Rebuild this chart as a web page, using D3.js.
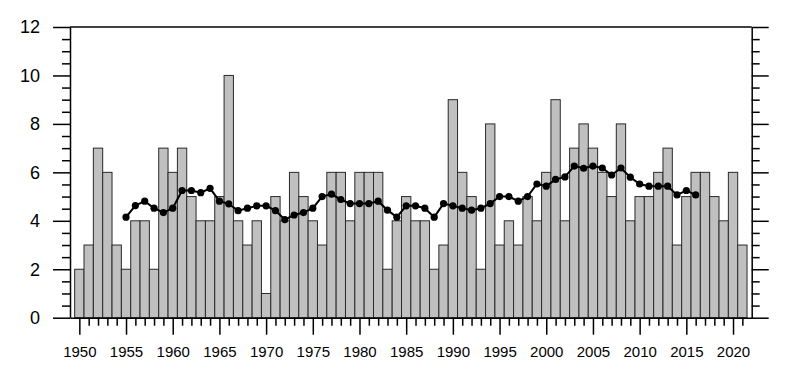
<!DOCTYPE html>
<html>
<head>
<meta charset="utf-8">
<script src="https://cdn.jsdelivr.net/npm/d3@7"></script>
<style>
  html, body { margin: 0; padding: 0; background: #fff; }
  svg { display: block; font-family: "Liberation Sans", Arial, Helvetica, sans-serif; }
</style>
</head>
<body>
<div id="chart"></div>
<script>
// yearly counts, 1950-2021
const years = d3.range(1950, 2022);
const counts = [
  2, 3, 7, 6, 3, 2, 4, 4, 2, 7,
  6, 7, 5, 4, 4, 5, 10, 4, 3, 4,
  1, 5, 4, 6, 5, 4, 3, 6, 6, 4,
  6, 6, 6, 2, 4, 5, 4, 4, 2, 3,
  9, 6, 5, 2, 8, 3, 4, 3, 5, 4,
  6, 9, 4, 7, 8, 7, 6, 5, 8, 4,
  5, 5, 6, 7, 3, 5, 6, 6, 5, 4,
  6, 3
];

// smoothed curve, 1955-2016
const smoothYears = d3.range(1955, 2017);
const smoothValues = [
  4.15, 4.63, 4.81, 4.52, 4.34, 4.52, 5.25, 5.25, 5.16, 5.34,
  4.81, 4.70, 4.42, 4.52, 4.62, 4.62, 4.42, 4.05, 4.24, 4.34,
  4.52, 5.00, 5.10, 4.88, 4.71, 4.71, 4.71, 4.81, 4.44, 4.15,
  4.62, 4.62, 4.52, 4.15, 4.71, 4.62, 4.52, 4.44, 4.52, 4.71,
  5.00, 5.00, 4.81, 5.00, 5.52, 5.43, 5.71, 5.81, 6.26, 6.17,
  6.26, 6.18, 5.89, 6.18, 5.80, 5.52, 5.43, 5.43, 5.43, 5.07,
  5.25, 5.07
];

const yTicks = [0, 2, 4, 6, 8, 10, 12];
const xTicks = d3.range(1950, 2021, 5);

const W = 789, H = 378;
const m = { left: 70, right: 751.7, top: 27, bottom: 317.7 };

const svg = d3.select('#chart').append('svg').attr('width', W).attr('height', H);

const x = d3.scaleLinear().domain([1949, 2022]).range([m.left, m.right]);
const y = d3.scaleLinear().domain([0, 12]).range([m.bottom, m.top]);

// bars
svg.append('g').selectAll('rect').data(years).enter().append('rect')
  .attr('x', d => x(d - 0.5))
  .attr('width', d => x(d + 0.5) - x(d - 0.5))
  .attr('y', (d, i) => y(counts[i]))
  .attr('height', (d, i) => y(0) - y(counts[i]))
  .attr('fill', '#c0c0c0')
  .attr('stroke', '#2a2a2a')
  .attr('stroke-width', 1);

// smoothed line + dots
const line = d3.line().x((d, i) => x(smoothYears[i])).y(d => y(d));
svg.append('path').datum(smoothValues)
  .attr('d', line).attr('fill', 'none').attr('stroke', '#000').attr('stroke-width', 2);
svg.append('g').selectAll('circle').data(smoothValues).enter().append('circle')
  .attr('cx', (d, i) => x(smoothYears[i])).attr('cy', d => y(d)).attr('r', 3.6).attr('fill', '#000');

// frame top
svg.append('line').attr('x1', m.left).attr('x2', m.right).attr('y1', m.top).attr('y2', m.top)
  .attr('stroke', '#000').attr('stroke-width', 1.5);

// left axis
const yMinor = d3.range(0, 12.01, 0.5).filter(v => v % 2 !== 0);
const axL = svg.append('g').attr('transform', `translate(${m.left},0)`)
  .call(d3.axisLeft(y).tickValues(yTicks).tickSize(17).tickSizeOuter(0).tickPadding(13).tickFormat(d3.format('d')));
axL.selectAll('.tick text').attr('font-size', 18).attr('fill', '#000');
axL.append('g').attr('class', 'minor').call(d3.axisLeft(y).tickValues(yMinor).tickSize(8).tickFormat(''));

// right axis
const axR = svg.append('g').attr('transform', `translate(${m.right},0)`)
  .call(d3.axisRight(y).tickValues(yTicks).tickSize(17).tickSizeOuter(0).tickFormat(''));
axR.append('g').attr('class', 'minor').call(d3.axisRight(y).tickValues(yMinor).tickSize(8).tickFormat(''));

// bottom axis
const xMinor = years.filter(v => v % 5 !== 0);
const axB = svg.append('g').attr('transform', `translate(0,${m.bottom})`)
  .call(d3.axisBottom(x).tickValues(xTicks).tickSize(17).tickSizeOuter(0).tickPadding(12).tickFormat(d3.format('d')));
axB.selectAll('.tick text').attr('font-size', 15).attr('fill', '#000');
axB.append('g').attr('class', 'minor').call(d3.axisBottom(x).tickValues(xMinor).tickSize(8).tickFormat(''));

svg.selectAll('g').attr('font-family', null);
svg.selectAll('.domain').attr('stroke', '#000').attr('stroke-width', 1.5);
svg.selectAll('.tick line').attr('stroke', '#000').attr('stroke-width', 1.5);
svg.selectAll('.minor .domain').remove();
</script>
</body>
</html>
